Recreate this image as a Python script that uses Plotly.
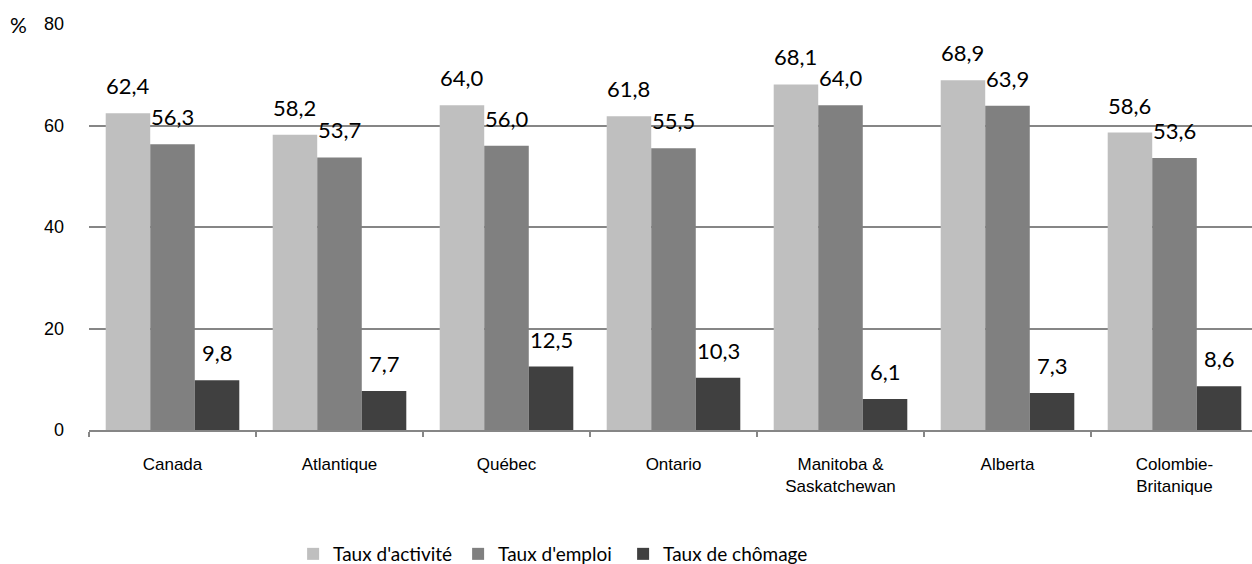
import plotly.graph_objects as go

# Taux du marché du travail par région (%)
regions = ["Canada", "Atlantique", "Québec", "Ontario",
           "Manitoba &<br>Saskatchewan", "Alberta", "Colombie-<br>Britanique"]
taux_activite = [62.4, 58.2, 64.0, 61.8, 68.1, 68.9, 58.6]
taux_emploi = [56.3, 53.7, 56.0, 55.5, 64.0, 63.9, 53.6]
taux_chomage = [9.8, 7.7, 12.5, 10.3, 6.1, 7.3, 8.6]

series = [
    ("Taux d'activité", taux_activite, "#bfbfbf"),
    ("Taux d'emploi", taux_emploi, "#808080"),
    ("Taux de chômage", taux_chomage, "#404040"),
]

W, H = 1252, 564
ML, MR, MT, MB = 89, 0, 24, 134
plot_w = W - ML - MR
plot_h = H - MT - MB
cat_px = 167.0                      # pixel width of one category slot
x_hi = -0.5 + plot_w / cat_px
bargap = 0.2
bar_px = cat_px * (1 - bargap) / len(series)

GRID = "#868686"
LABEL_FONT = "Lato, 'Open Sans', sans-serif"
AXIS_FONT = "'Liberation Sans', Arial, sans-serif"

fig = go.Figure()
for i, (name, vals, col) in enumerate(series):
    fig.add_trace(go.Bar(
        name=name, x=regions, y=vals,
        marker=dict(color=col, line=dict(width=0)),
        # fixed legend slot for the first entries, natural width for the last
        legendwidth=120 if i < len(series) - 1 else None,
    ))

# value labels above each bar, formatted with a decimal comma
annotations = []
for i, (name, vals, col) in enumerate(series):
    offset = (i - (len(series) - 1) / 2) * bar_px
    for reg, v in zip(regions, vals):
        annotations.append(dict(
            x=reg, y=v, xref="x", yref="y",
            text=f"{v:.1f}".replace(".", ","),
            showarrow=False, xanchor="center", yanchor="bottom",
            xshift=offset, yshift=12,
            font=dict(family=LABEL_FONT, size=22, color="#000000"),
        ))

# unit marker next to the top tick
annotations.append(dict(
    x=-0.061, y=80, xref="paper", yref="y", text="%",
    showarrow=False, xanchor="center", yanchor="middle",
    font=dict(family=LABEL_FONT, size=21, color="#000000"),
))

fig.update_layout(
    width=W, height=H,
    margin=dict(l=ML, r=MR, t=MT, b=MB, pad=0, autoexpand=False),
    paper_bgcolor="white", plot_bgcolor="white",
    barmode="group", bargap=bargap, bargroupgap=0,
    annotations=annotations,
    showlegend=True,
    legend=dict(
        orientation="h", x=0.1755, xanchor="left",
        y=-(554 - (H - MB)) / plot_h, yanchor="middle",
        font=dict(family=LABEL_FONT, size=19, color="#000000"),
        itemwidth=30, traceorder="normal",
    ),
    xaxis=dict(
        range=[-0.5, x_hi],
        showline=True, linecolor=GRID, linewidth=1.5,
        ticks="outside", tickson="boundaries", ticklen=5,
        tickcolor=GRID, tickwidth=1.5,
        showgrid=False, zeroline=False, automargin=False,
        tickfont=dict(family=AXIS_FONT, size=17, color="#000000"),
        ticklabelstandoff=18,
    ),
    yaxis=dict(
        range=[0, 80], tickvals=[0, 20, 40, 60, 80],
        showgrid=True, gridcolor=GRID, gridwidth=1.5,
        zeroline=False, showline=False, ticks="", automargin=False,
        tickfont=dict(family=AXIS_FONT, size=18, color="#000000"),
        ticklabelstandoff=24,
    ),
)

fig.write_html("out.html")
